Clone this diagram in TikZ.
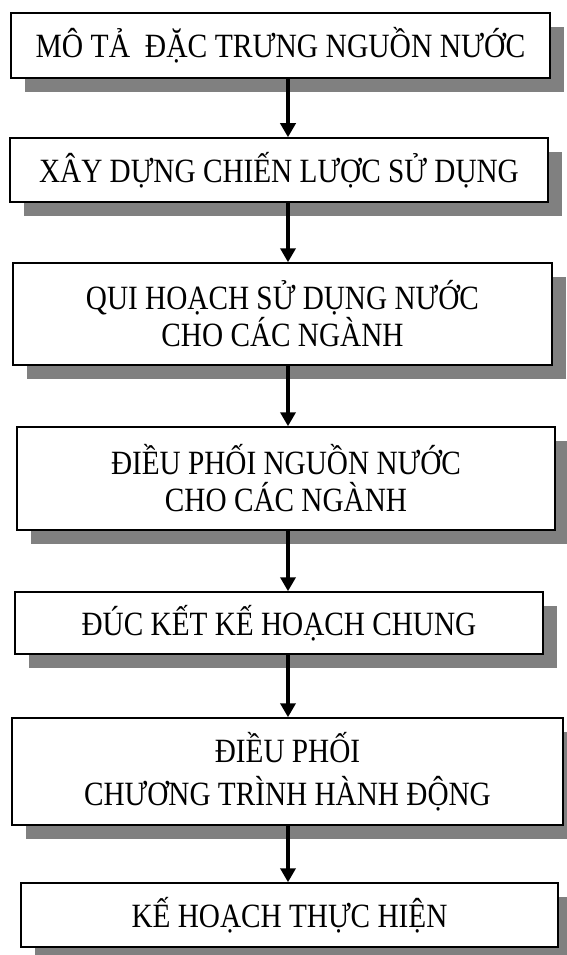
\documentclass[tikz,border=0pt]{standalone}
\usepackage{fontspec}
\setmainfont{Liberation Serif}[FakeStretch=0.86]
\newfontfamily\headfont{Liberation Serif}[FakeStretch=0.87]
\usetikzlibrary{arrows.meta,shadows}
\definecolor{shadowgray}{RGB}{128,128,128}
\tikzset{
  stepbox/.style={draw, line width=1.5pt, fill=white, inner sep=0pt,
    align=center, font=\fontsize{34}{37}\selectfont,
    drop shadow={shadow xshift=14pt, shadow yshift=-14pt, fill=shadowgray, opacity=1}},
  flow/.style={line width=4pt, -{Triangle[width=15pt,length=14pt]}}
}
\begin{document}
\begin{tikzpicture}[x=1pt,y=-1pt]
\useasboundingbox (0,0) rectangle (566,955);
\coordinate (ax) at (288,0);
\node[stepbox, minimum width=539pt, minimum height=65pt,
  font=\headfont\fontsize{34}{37}\selectfont] (b1) at (280.5,45.5)
  {MÔ TẢ\ \ ĐẶC TRƯNG NGUỒN NƯỚC};
\node[stepbox, minimum width=538pt, minimum height=64pt] (b2) at (279,170)
  {XÂY DỰNG CHIẾN LƯỢC SỬ DỤNG};
\node[stepbox, minimum width=539pt, minimum height=102pt] (b3) at (282.5,314)
  {QUI HOẠCH SỬ DỤNG NƯỚC\\CHO CÁC NGÀNH};
\node[stepbox, minimum width=538pt, minimum height=103pt] (b4) at (286,478.5)
  {ĐIỀU PHỐI NGUỒN NƯỚC\\CHO CÁC NGÀNH};
\node[stepbox, minimum width=528pt, minimum height=62pt] (b5) at (279,623)
  {ĐÚC KẾT KẾ HOẠCH CHUNG};
\node[stepbox, minimum width=551pt, minimum height=107pt] (b6) at (287.5,771.5)
  {ĐIỀU PHỐI\\[6pt]CHƯƠNG TRÌNH HÀNH ĐỘNG};
\node[stepbox, minimum width=537pt, minimum height=64pt] (b7) at (289.5,915)
  {KẾ HOẠCH THỰC HIỆN};
\draw[flow] (b1.south -| ax) -- (b2.north -| ax);
\draw[flow] (b2.south -| ax) -- (b3.north -| ax);
\draw[flow] (b3.south -| ax) -- (b4.north -| ax);
\draw[flow] (b4.south -| ax) -- (b5.north -| ax);
\draw[flow] (b5.south -| ax) -- (b6.north -| ax);
\draw[flow] (b6.south -| ax) -- (b7.north -| ax);
\end{tikzpicture}
\end{document}
